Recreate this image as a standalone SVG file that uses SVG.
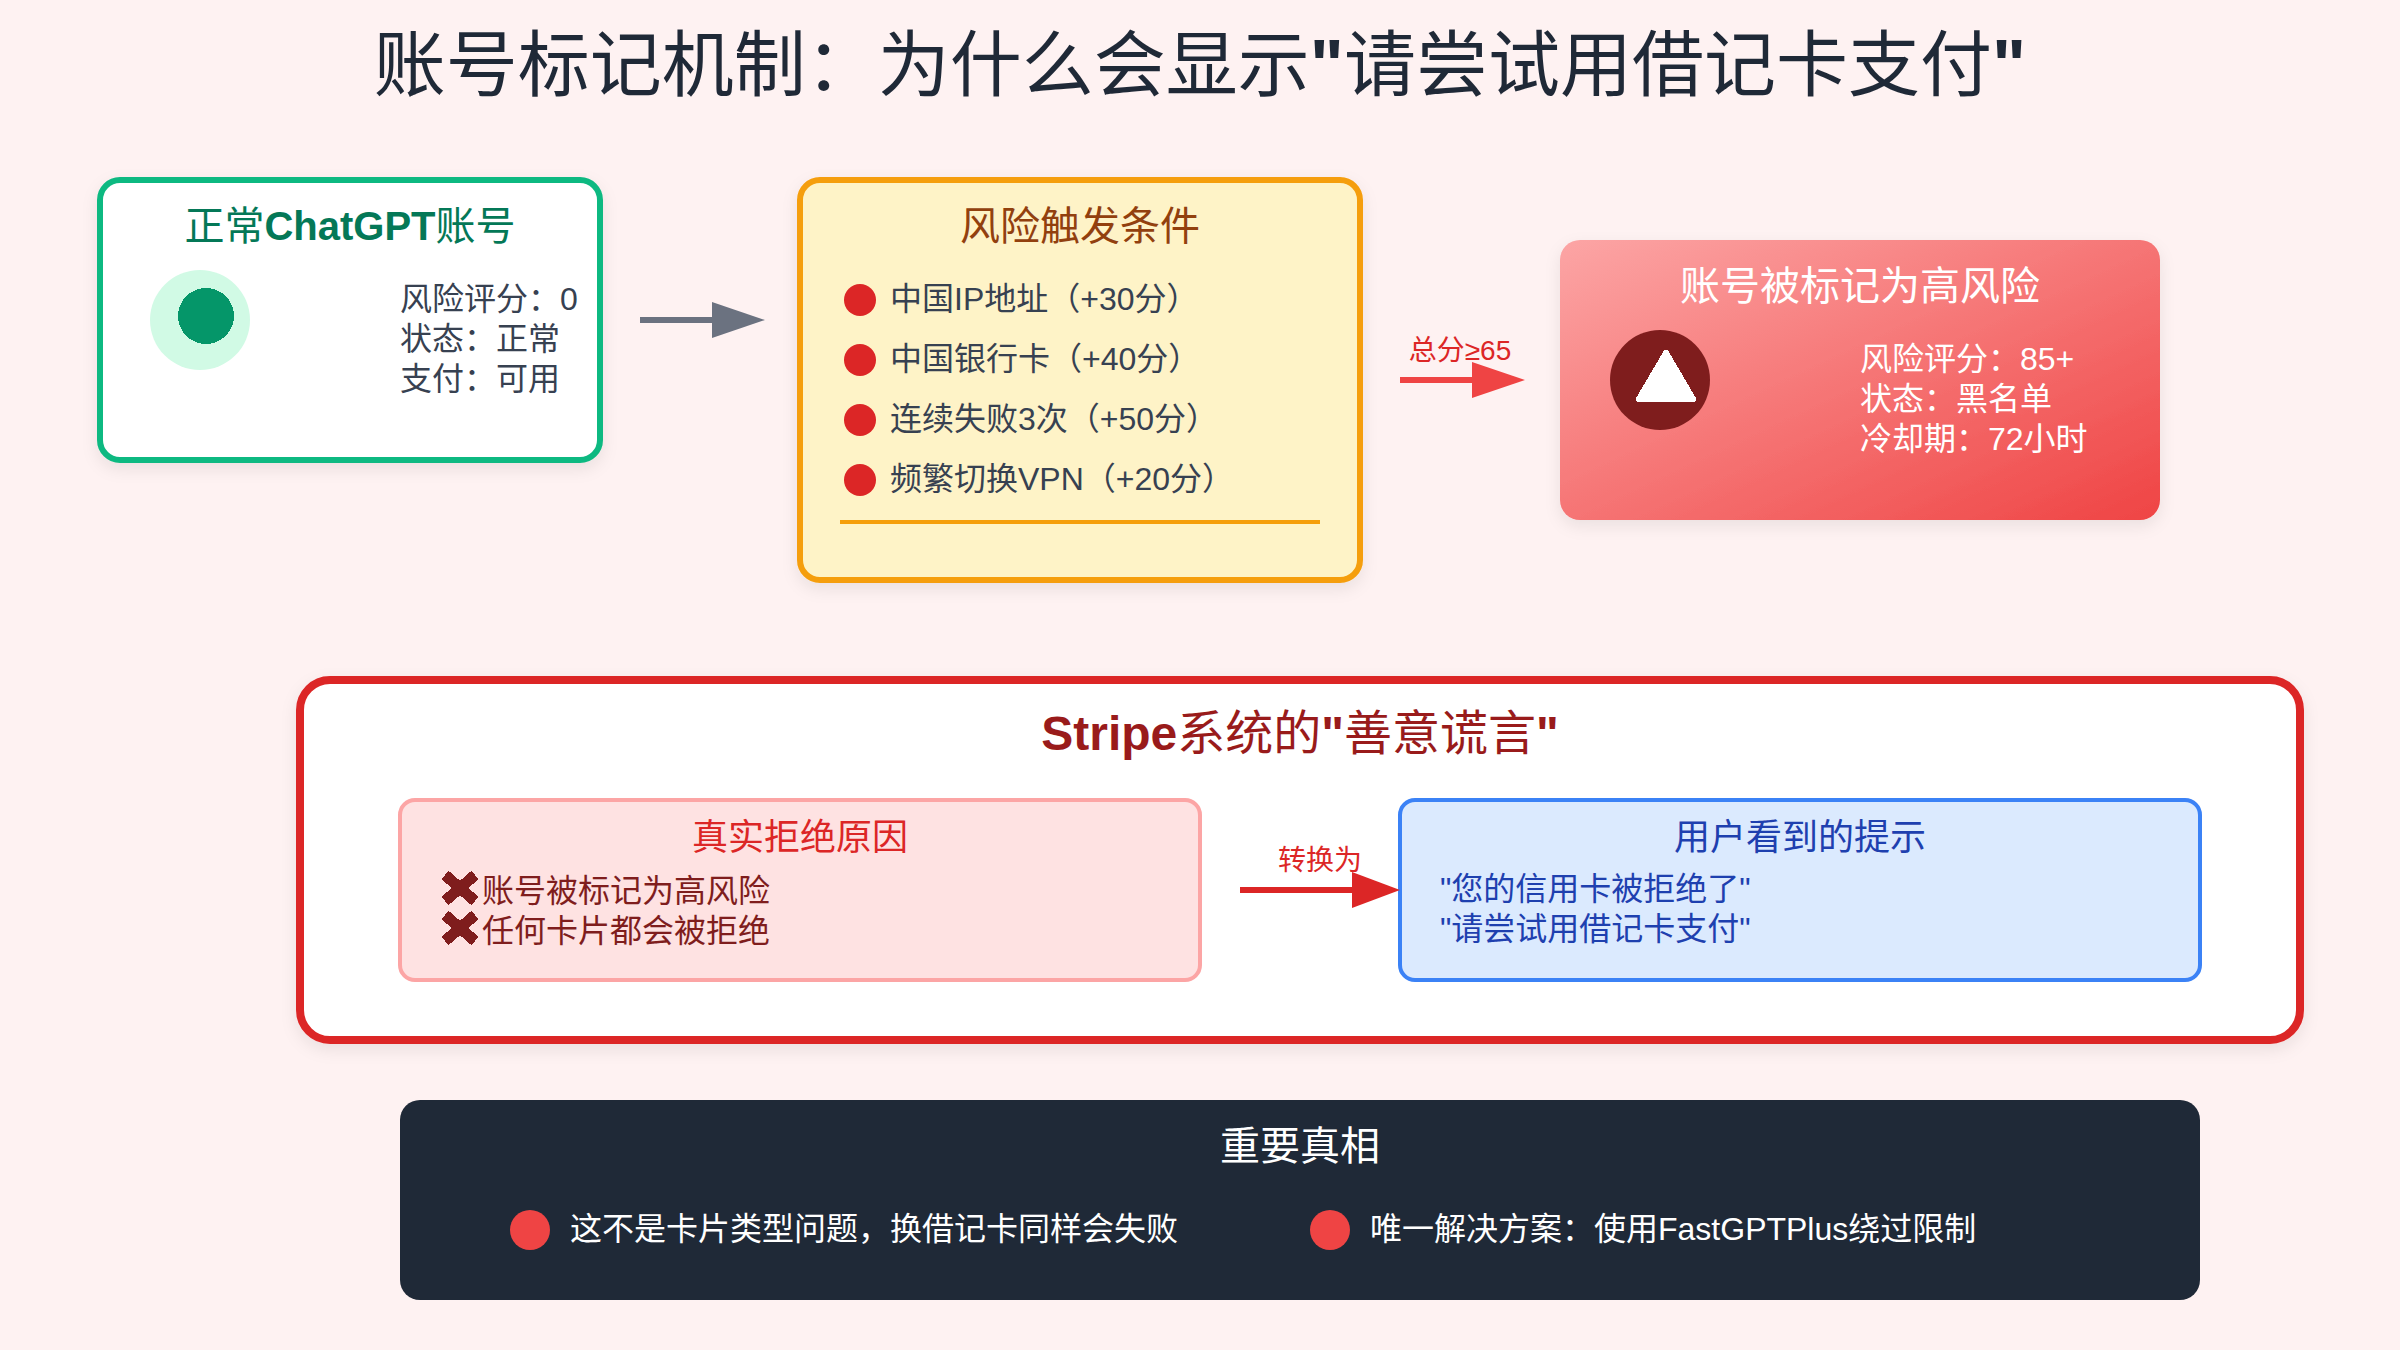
<svg xmlns="http://www.w3.org/2000/svg" width="2400" height="1350" viewBox="0 0 2400 1350">
<style>
text{font-family:"Liberation Sans","Noto Sans CJK SC",sans-serif}
.m{text-anchor:middle}
.b{font-weight:700}
.t40{font-size:40px}
.t32{font-size:32px}
.t36{font-size:36px}
.t28{font-size:28px}
.body{font-size:32px;fill:#374151}
.wh{font-size:32px;fill:#fff}
.shadow{filter:url(#sh)}
.pix{shape-rendering:crispEdges}
</style>
<defs>
<linearGradient id="grad" x1="0" y1="0" x2="1" y2="1"><stop offset="0" stop-color="#fca5a5"/><stop offset="1" stop-color="#ef4444"/></linearGradient>
<filter id="sh" x="-10%" y="-10%" width="120%" height="125%"><feDropShadow dx="0" dy="6" stdDeviation="8" flood-color="#000" flood-opacity=".08"/></filter>
<marker id="hGray" markerUnits="userSpaceOnUse" markerWidth="53" markerHeight="36" refX="0" refY="18" orient="auto"><path d="M0 0L53 18L0 36Z" fill="#6b7280"/></marker>
<marker id="hRed" markerUnits="userSpaceOnUse" markerWidth="53" markerHeight="36" refX="0" refY="18" orient="auto"><path d="M0 0L53 18L0 36Z" fill="#ef4444"/></marker>
<marker id="hDark" markerUnits="userSpaceOnUse" markerWidth="48" markerHeight="36" refX="0" refY="18" orient="auto"><path d="M0 0L48 18L0 36Z" fill="#dc2626"/></marker>
</defs>
<rect width="2400" height="1350" fill="#fef2f2"/>
<text id="title" x="1200" y="90" class="m" font-size="72" fill="#1f2937">账号标记机制：为什么会显示<tspan class="b">"</tspan>请尝试用借记卡支付<tspan class="b">"</tspan></text>

<g id="node-normal">
<rect class="shadow" x="100" y="180" width="500" height="280" rx="20" fill="#fff" stroke="#10b981" stroke-width="6"/>
<text x="350" y="240" class="m t40" fill="#047857">正常<tspan class="b">ChatGPT</tspan>账号</text>
<circle cx="200" cy="320" r="50" fill="#d1fae5"/>
<circle class="pix" cx="206" cy="316" r="28" fill="#059669"/>
<text x="400" y="310" class="body">风险评分：0</text>
<text x="400" y="350" class="body">状态：正常</text>
<text x="400" y="390" class="body">支付：可用</text>
</g>

<g id="node-risk">
<rect class="shadow" x="800" y="180" width="560" height="400" rx="20" fill="#fef3c7" stroke="#f59e0b" stroke-width="6"/>
<text x="1080" y="240" class="m t40" fill="#92400e">风险触发条件</text>
<circle cx="860" cy="300" r="16" fill="#dc2626"/>
<text x="890" y="310" class="body">中国IP地址（+30分）</text>
<circle cx="860" cy="360" r="16" fill="#dc2626"/>
<text x="890" y="370" class="body">中国银行卡（+40分）</text>
<circle cx="860" cy="420" r="16" fill="#dc2626"/>
<text x="890" y="430" class="body">连续失败3次（+50分）</text>
<circle cx="860" cy="480" r="16" fill="#dc2626"/>
<text x="890" y="490" class="body">频繁切换VPN（+20分）</text>
<rect x="840" y="520" width="480" height="4" fill="#f59e0b"/>
</g>

<g id="node-flagged">
<rect class="shadow" x="1560" y="240" width="600" height="280" rx="20" fill="url(#grad)"/>
<text x="1860" y="300" class="m t40" fill="#fff">账号被标记为高风险</text>
<circle cx="1660" cy="380" r="50" fill="#7f1d1d"/>
<path class="pix" d="M1666 353L1693 399H1639Z" fill="#fff" stroke="#fff" stroke-width="6" stroke-linejoin="round"/>
<text x="1860" y="370" class="wh">风险评分：85+</text>
<text x="1860" y="410" class="wh">状态：黑名单</text>
<text x="1860" y="450" class="wh">冷却期：72小时</text>
</g>

<g id="node-stripe">
<rect class="shadow" x="300" y="680" width="2000" height="360" rx="30" fill="#fff" stroke="#dc2626" stroke-width="8"/>
<text x="1300" y="750" class="m" font-size="48" fill="#991b1b"><tspan class="b">Stripe</tspan>系统的<tspan class="b">"</tspan>善意谎言<tspan class="b">"</tspan></text>
</g>

<g id="node-real">
<rect x="400" y="800" width="800" height="180" rx="15" fill="#fee2e2" stroke="#fca5a5" stroke-width="4"/>
<text x="800" y="850" class="m t36" fill="#dc2626">真实拒绝原因</text>
<path class="pix" d="M445 875L475 901M475 875L445 901M445 915L475 941M475 915L445 941" fill="none" stroke="#7f1d1d" stroke-width="11"/>
<text x="482" y="902" class="t32" fill="#7f1d1d">账号被标记为高风险</text>
<text x="482" y="942" class="t32" fill="#7f1d1d">任何卡片都会被拒绝</text>
</g>

<g id="node-shown">
<rect x="1400" y="800" width="800" height="180" rx="15" fill="#dbeafe" stroke="#3b82f6" stroke-width="4"/>
<text x="1800" y="850" class="m t36" fill="#1e40af">用户看到的提示</text>
<text x="1440" y="900" class="t32" fill="#1e40af">"您的信用卡被拒绝了"</text>
<text x="1440" y="940" class="t32" fill="#1e40af">"请尝试用借记卡支付"</text>
</g>

<g id="node-truth">
<rect x="400" y="1100" width="1800" height="200" rx="20" fill="#1f2937"/>
<text x="1300" y="1160" class="m t40" fill="#fff">重要真相</text>
<circle cx="530" cy="1230" r="20" fill="#ef4444"/>
<text x="570" y="1240" class="wh">这不是卡片类型问题，换借记卡同样会失败</text>
<circle cx="1330" cy="1230" r="20" fill="#ef4444"/>
<text x="1370" y="1240" class="wh">唯一解决方案：使用FastGPTPlus绕过限制</text>
</g>

<g id="connectors">
<path d="M640 320H712" stroke="#6b7280" stroke-width="6" fill="none" marker-end="url(#hGray)"/>
<path d="M1400 380H1472" stroke="#ef4444" stroke-width="6" fill="none" marker-end="url(#hRed)"/>
<text x="1460" y="360" class="m t28" fill="#dc2626">总分≥65</text>
<path d="M1240 890H1352" stroke="#dc2626" stroke-width="6" fill="none" marker-end="url(#hDark)"/>
<text x="1320" y="870" class="m t28" fill="#dc2626">转换为</text>
</g>
</svg>
